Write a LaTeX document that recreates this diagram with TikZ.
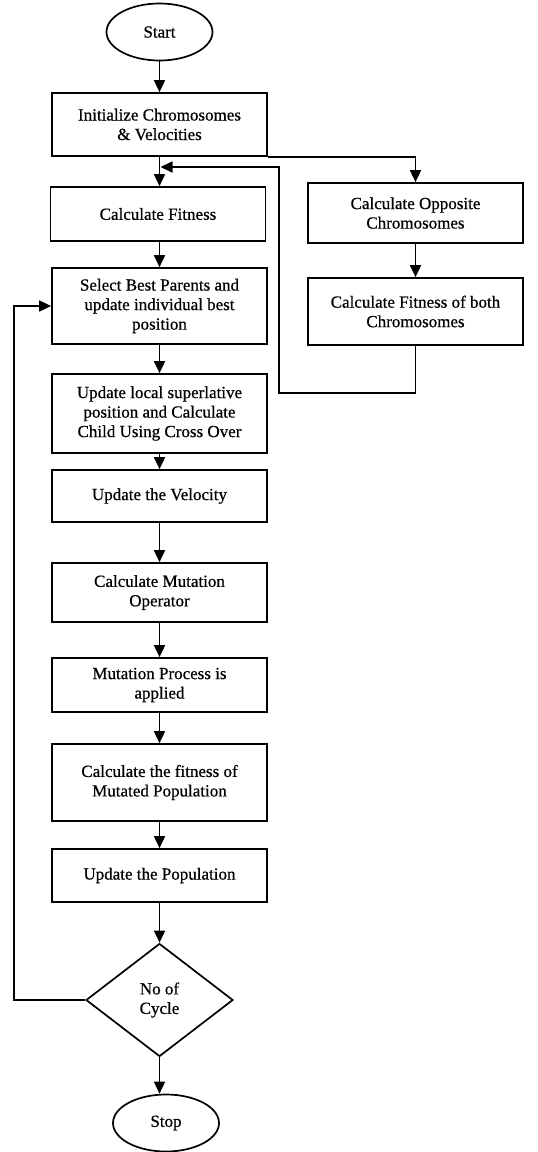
\documentclass[tikz,border=0pt]{standalone}
\usepackage{fontspec}
\setmainfont[FakeBold=0.6,BoldFont={Liberation Serif}]{Liberation Serif}
\usetikzlibrary{shapes.geometric,arrows.meta}
\begin{document}
\begin{tikzpicture}[x=1pt,y=-1pt,
  every node/.style={font=\fontsize{17}{19.5}\selectfont\bfseries, align=center, inner sep=0pt},
  procbox/.style={draw, line width=1.7pt, minimum width=215pt},
  term/.style={draw, ellipse, line width=1.7pt, minimum width=106pt, minimum height=57pt},
  decis/.style={draw, diamond, line width=1.7pt, minimum width=147pt, minimum height=113pt},
  arr/.style={line width=1.7pt, -{Triangle[length=12pt,width=11pt]}}]
\useasboundingbox (0,0) rectangle (538,1152);
\node[term] (start) at (159.5,32) {Start};
\node[procbox, minimum height=63pt] (init) at (159.5,124.5) {Initialize Chromosomes\\\& Velocities};
\node[procbox, minimum height=54pt] (calcfit) at (158,214) {Calculate Fitness};
\node[procbox, minimum height=76pt] (select) at (159.5,306) {Select Best Parents and\\update individual best\\position};
\node[procbox, minimum height=79pt] (local) at (159.5,413.5) {Update local superlative\\position and Calculate\\Child Using Cross Over};
\node[procbox, minimum height=52pt] (vel) at (159.5,496) {Update the Velocity};
\node[procbox, minimum height=59pt] (mutop) at (159.5,592.5) {Calculate Mutation\\Operator};
\node[procbox, minimum height=54pt] (mutproc) at (159.5,685) {Mutation Process is\\applied};
\node[procbox, minimum height=77pt] (fitmut) at (159.5,782.5) {Calculate the fitness of\\Mutated Population};
\node[procbox, minimum height=53pt] (updpop) at (159.5,875.5) {Update the Population};
\node[decis] (cycle) at (159.5,1000) {No of\\Cycle};
\node[term] (stop) at (166,1123) {Stop};
\node[procbox, minimum height=60pt] (opp) at (415.5,213) {Calculate Opposite\\Chromosomes};
\node[procbox, minimum height=67pt] (fitboth) at (415.5,311.5) {Calculate Fitness of both\\Chromosomes};
\coordinate (r1) at (279,393);
\coordinate (r2) at (279,167);
\coordinate (r3) at (160.5,167);
\coordinate (l1) at (14,1000);
\draw[arr] (start) -- (init);
\draw[arr] (init) -- (calcfit.north -| init.south);
\draw[arr] (init.south east) -| (opp.north);
\draw[arr] (opp) -- (fitboth);
\draw[arr] (fitboth.south) |- (r1) -- (r2) -- (r3);
\draw[arr] (calcfit.south -| select.north) -- (select);
\draw[arr] (select) -- (local);
\draw[arr] (local) -- (vel);
\draw[arr] (vel) -- (mutop);
\draw[arr] (mutop) -- (mutproc);
\draw[arr] (mutproc) -- (fitmut);
\draw[arr] (fitmut) -- (updpop);
\draw[arr] (updpop) -- (cycle);
\draw[arr] (cycle.west) -- (l1) |- (select.west);
\draw[arr] (cycle.south) -- (cycle.south |- stop.north);
\end{tikzpicture}
\end{document}
